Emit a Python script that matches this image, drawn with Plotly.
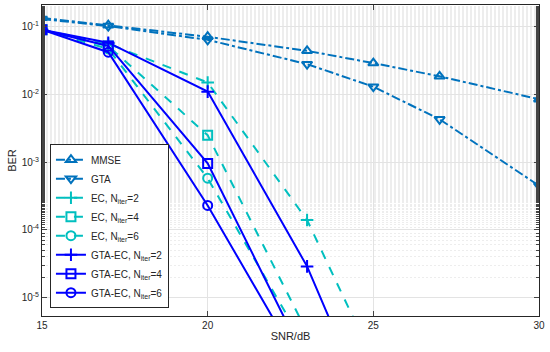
import plotly.graph_objects as go

snr_long = [15, 17, 20, 23, 25, 27, 30]
mmse = [0.135, 0.105, 0.071, 0.044, 0.029, 0.0185, 0.0085]
gta = [0.13, 0.102, 0.064, 0.028, 0.013, 0.0043, 0.00045]

snr_short = [15, 17, 20, 23, 25]
ec2 = [0.09, 0.056, 0.015, 1.4e-4, 1.2e-6]
ec4 = [0.09, 0.052, 0.0025, 3.1e-6, 1e-8]
ec6 = [0.09, 0.047, 5.8e-4, 1.7e-6, 5e-9]
gtaec2 = [0.09, 0.058, 0.011, 2.9e-5, 1.5e-7]
gtaec4 = [0.09, 0.052, 9.6e-4, 1.07e-6, 1e-9]
gtaec6 = [0.09, 0.042, 2.3e-4, 6.8e-7, 5e-10]

ytick_vals = [1e-5, 1e-4, 1e-3, 1e-2, 1e-1]
ytick_text = ["10<sup>-5</sup>", "10<sup>-4</sup>", "10<sup>-3</sup>", "10<sup>-2</sup>", "10<sup>-1</sup>"]
xtick_vals = [15, 20, 25, 30]

C_MM = "#0072BD"
C_EC = "#00BFBF"
C_GE = "#0000FF"

series = [
    ("MMSE", snr_long, mmse, C_MM, "dashdot", "triangle-up-open"),
    ("GTA", snr_long, gta, C_MM, "dashdot", "triangle-down-open"),
    ("EC, N<sub>iter</sub>=2", snr_short, ec2, C_EC, "dash", "cross-thin-open"),
    ("EC, N<sub>iter</sub>=4", snr_short, ec4, C_EC, "dash", "square-open"),
    ("EC, N<sub>iter</sub>=6", snr_short, ec6, C_EC, "dash", "circle-open"),
    ("GTA-EC, N<sub>iter</sub>=2", snr_short, gtaec2, C_GE, "solid", "cross-thin-open"),
    ("GTA-EC, N<sub>iter</sub>=4", snr_short, gtaec4, C_GE, "solid", "square-open"),
    ("GTA-EC, N<sub>iter</sub>=6", snr_short, gtaec6, C_GE, "solid", "circle-open"),
]

fig = go.Figure()
for name, x, y, c, dash, sym in series:
    fig.add_trace(go.Scatter(
        x=x, y=y, name=name, mode="lines+markers",
        line=dict(color=c, width=2, dash=dash),
        marker=dict(symbol=sym, size=9, color=c, line=dict(color=c, width=2)),
    ))

fig.update_layout(
    width=550, height=352,
    margin=dict(l=42, r=11, t=5, b=36, autoexpand=False),
    paper_bgcolor="white", plot_bgcolor="white",
    font=dict(family="Liberation Sans, Arial, sans-serif", size=10, color="#262626"),
    legend=dict(
        x=0.016, y=0.025, xanchor="left", yanchor="bottom",
        bgcolor="white", bordercolor="#262626", borderwidth=1,
        font=dict(size=10, color="#262626"),
        itemwidth=30, tracegroupgap=0,
    ),
    showlegend=True,
)
fig.update_xaxes(
    range=[15, 30], tickvals=xtick_vals, ticks="inside", ticklen=5,
    showgrid=True, gridcolor="#E3E3E3", gridwidth=1,
    showline=True, linecolor="#262626", linewidth=1, mirror="ticks",
    zeroline=False, automargin=False,
    title=dict(text="SNR/dB", font=dict(size=11), standoff=2),
    tickfont=dict(size=10),
)
fig.update_yaxes(
    type="log", range=[-5.27, -0.68], tickvals=ytick_vals, ticktext=ytick_text,
    ticks="inside", ticklen=5,
    showgrid=True, gridcolor="#E3E3E3", gridwidth=1,
    minor=dict(showgrid=True, gridcolor="#EDEDED", griddash="2px,2px", gridwidth=1,
               ticks="inside", ticklen=3),
    showline=True, linecolor="#262626", linewidth=1, mirror="ticks",
    zeroline=False, automargin=False,
    title=dict(text="BER", font=dict(size=11), standoff=2),
    tickfont=dict(size=10),
)

fig.write_html("out.html", config={"displayModeBar": False},
               post_script="document.body.style.margin='0';document.body.style.padding='0';")
